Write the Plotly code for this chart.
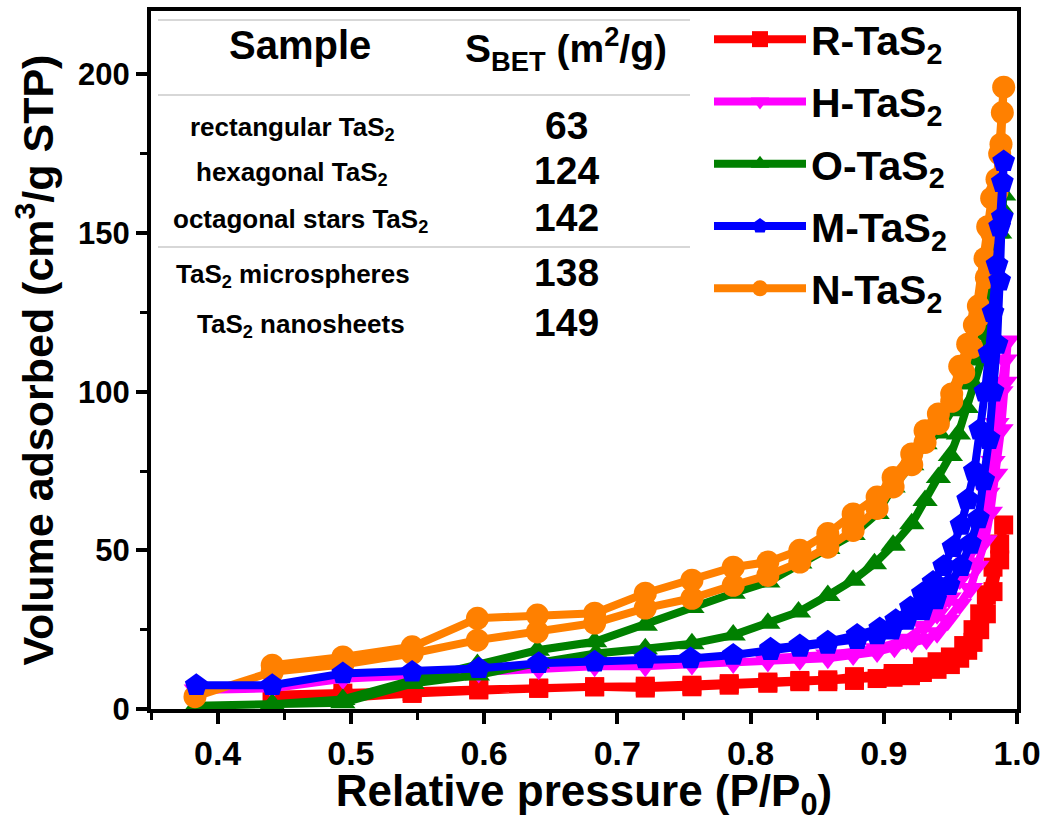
import plotly.graph_objects as go

# ---------------- data ----------------
# R-TaS2 (red squares)
r_x_ads = [0.441, 0.494, 0.546, 0.596, 0.641, 0.683, 0.721, 0.756, 0.784, 0.813, 0.837, 0.858, 0.878, 0.895,
           0.907, 0.920, 0.929, 0.940, 0.950, 0.957, 0.963, 0.967, 0.972, 0.977, 0.982, 0.987, 0.990]
r_y_ads = [2.8, 3.5, 4.9, 6.0, 6.5, 7.0, 6.6, 7.0, 7.5, 8.1, 8.6, 8.6, 9.0, 9.6,
           10.0, 10.5, 11.5, 12.5, 14.0, 16.0, 18.5, 21.0, 25.0, 30.0, 37.0, 47.0, 58.0]
r_x_des = [0.987, 0.982, 0.977, 0.972, 0.967, 0.960, 0.950, 0.940, 0.929, 0.920, 0.907, 0.878, 0.858,
           0.837, 0.813, 0.784, 0.756, 0.721, 0.683, 0.641, 0.596, 0.546, 0.494, 0.441]
r_y_des = [52.0, 44.7, 36.0, 30.0, 25.0, 20.0, 16.4, 14.9, 13.3, 11.2, 11.2, 10.2, 9.2,
           9.0, 8.5, 8.0, 7.5, 7.2, 7.0, 6.6, 6.2, 5.5, 5.0, 4.5]

# H-TaS2 (magenta down triangles)
h_x_ads = [0.384, 0.441, 0.494, 0.546, 0.596, 0.641, 0.683, 0.721, 0.756, 0.787, 0.813, 0.837, 0.858, 0.877,
           0.895, 0.908, 0.921, 0.932, 0.940, 0.948, 0.957, 0.965, 0.970, 0.976, 0.980, 0.984, 0.988, 0.991, 0.993]
h_y_ads = [6.0, 6.5, 9.5, 10.5, 11.5, 12.5, 13.5, 13.5, 14.0, 14.5, 15.0, 15.5, 16.0, 17.0,
           18.0, 19.5, 21.0, 22.0, 24.0, 28.0, 33.0, 38.0, 45.0, 53.0, 62.0, 74.0, 88.0, 103.0, 116.0]
h_x_des = [0.991, 0.988, 0.985, 0.982, 0.978, 0.974, 0.969, 0.963, 0.957, 0.949, 0.940, 0.930, 0.917,
           0.895, 0.858, 0.813]
h_y_des = [110.0, 100.0, 90.0, 78.0, 68.0, 60.0, 52.0, 46.0, 41.0, 35.0, 30.0, 26.0, 22.0,
           19.0, 17.0, 16.0]

# O-TaS2 (green up triangles)
o_x_ads = [0.384, 0.441, 0.494, 0.546, 0.595, 0.640, 0.684, 0.721, 0.756, 0.787, 0.813, 0.836, 0.858, 0.877,
           0.893, 0.907, 0.921, 0.931, 0.941, 0.950, 0.956, 0.962, 0.967, 0.974, 0.978, 0.983, 0.987, 0.990]
o_y_ads = [1.0, 1.5, 2.0, 8.0, 10.7, 14.5, 17.5, 19.0, 20.6, 23.3, 27.0, 30.6, 35.8, 40.6,
           45.8, 51.6, 58.4, 65.7, 73.0, 79.9, 86.7, 95.0, 102.4, 110.8, 121.0, 135.0, 150.0, 162.0]
o_x_des = [0.988, 0.985, 0.981, 0.976, 0.970, 0.963, 0.957, 0.951, 0.941, 0.931, 0.921, 0.907, 0.895,
           0.877, 0.858, 0.837, 0.813, 0.787, 0.756, 0.721, 0.683, 0.640, 0.595, 0.546, 0.494, 0.441]
o_y_des = [158.0, 150.0, 140.0, 128.0, 118.0, 110.0, 103.0, 94.0, 87.0, 83.6, 77.0, 70.0, 61.6,
           55.0, 50.6, 46.0, 40.0, 36.5, 32.0, 26.4, 21.2, 18.5, 14.0, 9.0, 3.0, 1.5]

# M-TaS2 (blue pentagons)
m_x_ads = [0.384, 0.441, 0.494, 0.546, 0.596, 0.641, 0.683, 0.721, 0.755, 0.787, 0.815, 0.837, 0.858, 0.880,
           0.895, 0.906, 0.917, 0.929, 0.939, 0.949, 0.958, 0.965, 0.971, 0.975, 0.979, 0.982, 0.985, 0.987,
           0.989, 0.990]
m_y_ads = [7.5, 7.5, 11.2, 11.7, 12.8, 14.4, 14.9, 15.9, 15.9, 17.0, 18.5, 19.5, 20.5, 22.0,
           23.5, 25.0, 28.0, 31.0, 34.5, 39.0, 45.0, 52.0, 60.0, 72.0, 85.0, 100.0, 115.0, 135.0,
           155.0, 172.6]
m_x_des = [0.989, 0.987, 0.985, 0.982, 0.979, 0.976, 0.972, 0.968, 0.963, 0.958, 0.952, 0.945, 0.937,
           0.929, 0.920, 0.909, 0.897, 0.880, 0.858, 0.837, 0.815]
m_y_des = [166.0, 152.0, 140.0, 125.0, 112.0, 100.0, 88.0, 75.0, 66.0, 58.0, 51.0, 45.0, 40.0,
           36.4, 32.0, 28.0, 25.4, 23.3, 21.2, 20.0, 19.0]

# N-TaS2 (orange circles)
n_x_ads = [0.383, 0.441, 0.494, 0.546, 0.595, 0.640, 0.683, 0.721, 0.756, 0.787, 0.813, 0.837, 0.858, 0.877,
           0.895, 0.907, 0.921, 0.931, 0.941, 0.951, 0.960, 0.966, 0.972, 0.977, 0.981, 0.985, 0.988, 0.990]
n_y_ads = [3.9, 11.7, 14.0, 17.5, 21.7, 24.3, 27.1, 31.8, 34.9, 39.0, 42.1, 46.3, 51.0, 56.3,
           63.2, 70.0, 77.0, 84.0, 90.0, 97.0, 106.0, 114.0, 124.0, 136.0, 150.0, 163.0, 178.0, 196.0]
n_x_des = [0.989, 0.987, 0.985, 0.981, 0.978, 0.976, 0.971, 0.968, 0.963, 0.957, 0.951, 0.941, 0.931,
           0.921, 0.907, 0.895, 0.877, 0.858, 0.837, 0.813, 0.787, 0.756, 0.721, 0.683, 0.640, 0.595,
           0.546, 0.494, 0.441]
n_y_des = [188.0, 175.0, 167.0, 161.0, 152.0, 142.0, 127.0, 121.0, 115.0, 108.0, 99.3, 93.0, 87.7,
           80.4, 73.0, 66.8, 61.5, 55.3, 50.0, 46.3, 44.7, 40.6, 36.5, 30.2, 29.6, 28.6,
           19.6, 16.4, 13.8]

series_names = ["R-TaS<sub>2</sub>", "H-TaS<sub>2</sub>", "O-TaS<sub>2</sub>", "M-TaS<sub>2</sub>", "N-TaS<sub>2</sub>"]
series_colors = ["#FF0000", "#FF00FF", "#008000", "#0000FF", "#FF8000"]
series_symbols = ["square", "triangle-down", "triangle-up", "pentagon", "circle"]
series_sizes = [19, 22, 22, 24, 23]

# table
table_samples = ["rectangular TaS<sub>2</sub>", "hexagonal TaS<sub>2</sub>", "octagonal stars TaS<sub>2</sub>",
                 "TaS<sub>2</sub> microspheres", "TaS<sub>2</sub> nanosheets"]
table_sbet = ["63", "124", "142", "138", "149"]

x_tick_vals = [0.4, 0.5, 0.6, 0.7, 0.8, 0.9, 1.0]
y_tick_vals = [0, 50, 100, 150, 200]

FONT = "Liberation Sans, Arial, sans-serif"

xs = [(r_x_ads, r_x_des), (h_x_ads, h_x_des), (o_x_ads, o_x_des), (m_x_ads, m_x_des), (n_x_ads, n_x_des)]
ys = [(r_y_ads, r_y_des), (h_y_ads, h_y_des), (o_y_ads, o_y_des), (m_y_ads, m_y_des), (n_y_ads, n_y_des)]

fig = go.Figure()
draw_order = [0, 1, 2, 4, 3]  # blue drawn on top
for i in draw_order:
    fig.add_trace(go.Scatter(
        x=list(xs[i][0]) + list(xs[i][1]),
        y=list(ys[i][0]) + list(ys[i][1]),
        mode="lines+markers",
        name=series_names[i],
        legendgroup=f"g{i}",
        legendrank=i + 1,
        line=dict(color=series_colors[i], width=8),
        marker=dict(symbol=series_symbols[i], size=series_sizes[i], color=series_colors[i],
                    line=dict(width=0)),
    ))

# plot-area pixel helpers (plot area: x 151..1017, y 11..709)
def px2paper_x(px):
    return (px - 151.0) / 866.0

def px2paper_y(py):
    return (709.0 - py) / 698.0

def text_anno(px, py, text, size):
    return dict(xref="paper", yref="paper", x=px2paper_x(px), y=px2paper_y(py),
                xanchor="center", yanchor="middle", text=text, showarrow=False,
                font=dict(size=size, family=FONT, color="black", weight="bold"))

annos = [text_anno(300, 45, "Sample", 40),
         text_anno(566, 49, "S<sub>BET</sub> (m<sup>2</sup>/g)", 39)]
row_y = [125, 170, 218, 272, 322]
row_x = [292, 292, 300, 293, 301]
for s, v, ry, rx in zip(table_samples, table_sbet, row_y, row_x):
    annos.append(text_anno(rx, ry + 3, s, 26))
    annos.append(text_anno(566, ry, v, 39))

shapes = []
for ly in [20, 95, 247]:
    shapes.append(dict(type="line", xref="paper", yref="paper",
                       x0=px2paper_x(158), x1=px2paper_x(690), y0=px2paper_y(ly), y1=px2paper_y(ly),
                       line=dict(color="#b0b0b0", width=1.2)))

fig.update_layout(
    width=1048, height=822,
    margin=dict(l=151, r=31, t=11, b=113, autoexpand=False),
    paper_bgcolor="white", plot_bgcolor="white",
    font=dict(family=FONT, color="black", weight="bold"),
    showlegend=True,
    legend=dict(x=px2paper_x(709), y=px2paper_y(6), xanchor="left", yanchor="top",
                bgcolor="rgba(0,0,0,0)", borderwidth=0,
                font=dict(size=41, family=FONT, color="black", weight="bold"),
                traceorder="grouped", tracegroupgap=6, itemwidth=92, itemsizing="trace"),
    annotations=annos,
    shapes=shapes,
    xaxis=dict(range=[0.35, 1.0], tickvals=x_tick_vals, tickformat=".1f",
               showline=True, linecolor="black", linewidth=4, mirror=True,
               ticks="outside", ticklen=11, tickwidth=4, tickcolor="black",
               minor=dict(dtick=0.05, tick0=0.35, ticks="outside", ticklen=7, tickwidth=3, tickcolor="black"),
               showgrid=False, zeroline=False, automargin=False,
               tickfont=dict(size=34, family=FONT, color="black", weight="bold"),
               title=dict(text="Relative pressure (P/P<sub>0</sub>)", standoff=13,
                          font=dict(size=44, family=FONT, color="black", weight="bold"))),
    yaxis=dict(range=[0, 220], tickvals=y_tick_vals,
               showline=True, linecolor="black", linewidth=4, mirror=True,
               ticks="outside", ticklen=11, tickwidth=4, tickcolor="black",
               minor=dict(dtick=25, tick0=0, ticks="outside", ticklen=7, tickwidth=3, tickcolor="black"),
               showgrid=False, zeroline=False, automargin=False,
               tickfont=dict(size=31, family=FONT, color="black", weight="bold"),
               title=dict(text="Volume adsorbed (cm<sup>3</sup>/g STP)", standoff=12,
                          font=dict(size=43, family=FONT, color="black", weight="bold"))),
)

fig.write_html("out.html", config={"displayModeBar": False},
               post_script="document.body.style.margin='0px';document.body.style.padding='0px';")
